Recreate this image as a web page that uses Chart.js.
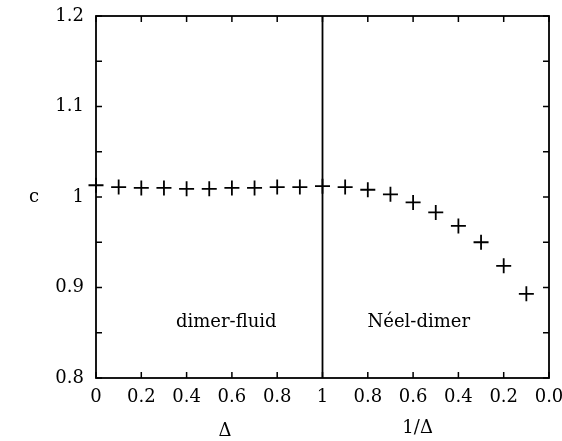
<!DOCTYPE html>
<html>
<head>
<meta charset="utf-8">
<script src="https://cdn.jsdelivr.net/npm/chart.js@4.4.1/dist/chart.umd.min.js"></script>
<style>
  html, body { margin: 0; padding: 0; background: #fff; }
  #wrap { width: 562px; height: 441px; }
</style>
</head>
<body>
<div id="wrap"><canvas id="chart" width="562" height="441"></canvas></div>
<script>
// ------------------ Data ------------------
const deltaVals = [0, 0.1, 0.2, 0.3, 0.4, 0.5, 0.6, 0.7, 0.8, 0.9, 1.0];
const cDimerFluid = [1.013, 1.011, 1.010, 1.010, 1.009, 1.009, 1.010, 1.010, 1.011, 1.011, 1.012];
const invDeltaVals = [0.9, 0.8, 0.7, 0.6, 0.5, 0.4, 0.3, 0.2, 0.1];
const cNeelDimer = [1.011, 1.008, 1.003, 0.994, 0.983, 0.968, 0.950, 0.924, 0.893];

const xTickVals = [0, 0.2, 0.4, 0.6, 0.8, 1, 1.2, 1.4, 1.6, 1.8, 2];
const xTickLabels = ["0", "0.2", "0.4", "0.6", "0.8", "1", "0.8", "0.6", "0.4", "0.2", "0.0"];
const yTickLabels = ["0.8", "0.9", "1", "1.1", "1.2"];

const serif = "'DejaVu Serif', 'Liberation Serif', serif";

// left half is Delta, right half is 1/Delta running back down to 0
const points = [];
for (let i = 0; i < deltaVals.length; i++) points.push({ x: deltaVals[i], y: cDimerFluid[i] });
for (let i = 0; i < invDeltaVals.length; i++) points.push({ x: 2 - invDeltaVals[i], y: cNeelDimer[i] });

// ------------------ Frame, inward ticks and labels ------------------
const framePlugin = {
    id: "frame",
    afterDraw(chart) {
        const ctx = chart.ctx;
        const xs = chart.scales.x;
        const ys = chart.scales.y;
        const a = chart.chartArea;
        ctx.save();
        ctx.strokeStyle = "#000";
        ctx.lineWidth = 1.8;
        ctx.strokeRect(a.left, a.top, a.right - a.left, a.bottom - a.top);

        // divider at Delta = 1
        const xm = xs.getPixelForValue(1);
        ctx.beginPath();
        ctx.moveTo(xm, a.top);
        ctx.lineTo(xm, a.bottom);
        ctx.stroke();

        ctx.lineWidth = 1.5;
        ctx.beginPath();
        xTickVals.forEach((v) => {
            const px = xs.getPixelForValue(v);
            ctx.moveTo(px, a.bottom); ctx.lineTo(px, a.bottom - 6);
            ctx.moveTo(px, a.top); ctx.lineTo(px, a.top + 6);
        });
        for (let v = 0.8; v <= 1.2001; v += 0.05) {
            const py = ys.getPixelForValue(v);
            ctx.moveTo(a.left, py); ctx.lineTo(a.left + 6, py);
            ctx.moveTo(a.right, py); ctx.lineTo(a.right - 6, py);
        }
        ctx.stroke();

        ctx.fillStyle = "#000";
        ctx.textAlign = "center";
        ctx.textBaseline = "middle";
        ctx.font = "18px " + serif;
        ctx.fillText("dimer-fluid", xs.getPixelForValue(0.575), ys.getPixelForValue(0.861));
        ctx.fillText("Néel-dimer", xs.getPixelForValue(1.425), ys.getPixelForValue(0.862));
        ctx.fillText("Δ", xs.getPixelForValue(0.57), 431);
        ctx.fillText("1/Δ", xs.getPixelForValue(1.42), 428);
        ctx.fillText("c", 34, ys.getPixelForValue(1.0));
        ctx.restore();
    }
};

// ------------------ Chart ------------------
const ctx = document.getElementById("chart").getContext("2d");
const myChart = new Chart(ctx, {
    type: "scatter",
    data: {
        datasets: [{
            data: points,
            pointStyle: "cross",
            pointRadius: 7.5,
            pointHoverRadius: 7.5,
            borderColor: "#000",
            backgroundColor: "#000",
            borderWidth: 1.8,
            showLine: false,
            clip: false,
        }],
    },
    options: {
        responsive: false,
        animation: false,
        layout: { padding: { top: 16, right: 13, left: 0, bottom: 0 } },
        plugins: { legend: { display: false }, tooltip: { enabled: false } },
        scales: {
            x: {
                type: "linear",
                min: 0,
                max: 2,
                grid: { display: false },
                border: { display: false },
                afterBuildTicks: (scale) => { scale.ticks = xTickVals.map((v) => ({ value: v })); },
                afterFit: (scale) => {
                    scale.height = 63;
                    scale.paddingLeft = 0;
                    scale.paddingRight = 0;
                },
                ticks: {
                    color: "#000",
                    font: { family: serif, size: 18 },
                    padding: 1,
                    maxRotation: 0,
                    autoSkip: false,
                    callback: (v, i) => xTickLabels[i],
                },
            },
            y: {
                type: "linear",
                min: 0.8,
                max: 1.2,
                grid: { display: false },
                border: { display: false },
                afterBuildTicks: (scale) => { scale.ticks = yTickLabels.map((t) => ({ value: parseFloat(t) })); },
                afterFit: (scale) => {
                    scale.width = 96;
                    scale.paddingTop = 0;
                    scale.paddingBottom = 0;
                },
                ticks: {
                    color: "#000",
                    font: { family: serif, size: 18 },
                    padding: 4,
                    callback: (v, i) => yTickLabels[i],
                },
            },
        },
    },
    plugins: [framePlugin],
});
</script>
</body>
</html>
